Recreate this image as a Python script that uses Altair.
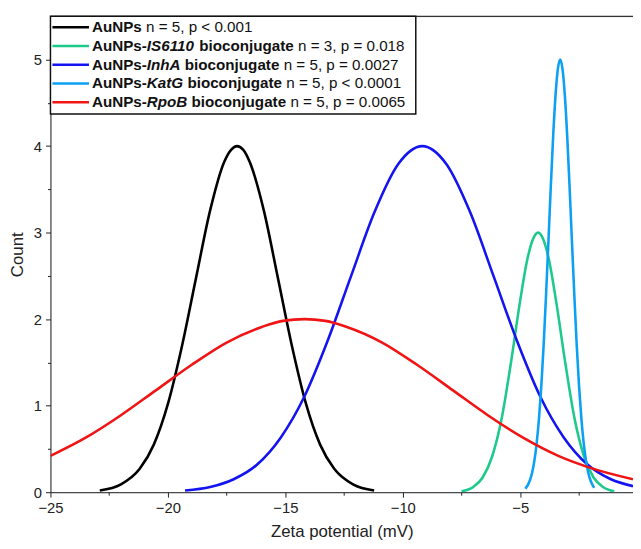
import altair as alt
import pandas as pd

# ---------------- data ----------------
series_names = ["AuNPs", "AuNPs-IS6110", "AuNPs-InhA", "AuNPs-KatG", "AuNPs-RpoB"]
series_colors = ["#000000", "#1DC98B", "#1414F0", "#0CA0F5", "#F01414"]

black_x = [-22.9, -22.0, -21.2, -20.6, -20.0, -19.4, -18.8, -18.2, -17.6, -17.3, -17.06,
           -16.8, -16.52, -15.92, -15.32, -14.72, -14.12, -13.52, -12.92, -12.12, -11.22]
black_y = [0.02, 0.09, 0.27, 0.55, 1.02, 1.69, 2.48, 3.26, 3.82, 3.96, 4.0,
           3.96, 3.82, 3.26, 2.48, 1.69, 1.02, 0.55, 0.27, 0.09, 0.02]

green_x = [-7.5, -7.0, -6.6, -6.2, -5.8, -5.4, -5.0, -4.7, -4.45, -4.24,
           -4.03, -3.78, -3.48, -3.08, -2.68, -2.28, -1.88, -1.48, -1.0]
green_y = [0.01, 0.06, 0.17, 0.41, 0.84, 1.49, 2.22, 2.69, 2.93, 3.0,
           2.93, 2.69, 2.22, 1.49, 0.84, 0.41, 0.17, 0.06, 0.01]

blue_x = [-19.27, -18.2, -17.2, -16.2, -15.2, -14.2, -13.2, -12.2, -11.2, -10.2, -9.17,
          -8.14, -7.14, -6.14, -5.14, -4.14, -3.14, -2.14, -1.14, -0.2]
blue_y = [0.02, 0.06, 0.15, 0.32, 0.63, 1.10, 1.75, 2.50, 3.24, 3.79, 4.0,
          3.79, 3.24, 2.50, 1.75, 1.10, 0.63, 0.32, 0.15, 0.07]

cyan_x = [-4.78, -4.6, -4.5, -4.4, -4.3, -4.2, -4.1, -4.0, -3.9, -3.8, -3.7, -3.6, -3.5, -3.4, -3.3,
          -3.2, -3.1, -3.0, -2.9, -2.8, -2.7, -2.6, -2.5, -2.4, -2.3, -2.2, -2.1, -2.0, -1.85]
cyan_y = [0.04, 0.13, 0.22, 0.36, 0.57, 0.86, 1.24, 1.72, 2.29, 2.90, 3.53, 4.11, 4.58, 4.89, 5.0,
          4.89, 4.58, 4.11, 3.53, 2.90, 2.29, 1.72, 1.24, 0.86, 0.57, 0.36, 0.22, 0.13, 0.05]

red_x = [-25.0, -23.5, -22.0, -20.5, -19.0, -17.5, -16.0, -15.1, -14.19,
         -13.3, -12.38, -10.88, -9.38, -7.88, -6.38, -4.88, -3.38, -1.88, -0.2]
red_y = [0.42, 0.63, 0.89, 1.18, 1.47, 1.73, 1.91, 1.98, 2.0,
         1.98, 1.91, 1.73, 1.47, 1.18, 0.89, 0.63, 0.42, 0.27, 0.15]

# legend text pieces: (text, style)  style: b = bold, bi = bold italic, r = regular
legend_rows = [
    [("AuNPs", "b"), (" n = 5, p < 0.001", "r")],
    [("AuNPs-", "b"), ("IS6110", "bi"), (" bioconjugate", "b"), (" n = 3, p = 0.018", "r")],
    [("AuNPs-", "b"), ("InhA", "bi"), (" bioconjugate", "b"), (" n = 5, p = 0.0027", "r")],
    [("AuNPs-", "b"), ("KatG", "bi"), (" bioconjugate", "b"), (" n = 5, p < 0.0001", "r")],
    [("AuNPs-", "b"), ("RpoB", "bi"), (" bioconjugate", "b"), (" n = 5, p = 0.0065", "r")],
]

x_ticks = [-25, -22.5, -20, -17.5, -15, -12.5, -10, -7.5, -5, -2.5]
y_ticks = [0, 0.5, 1, 1.5, 2, 2.5, 3, 3.5, 4, 4.5, 5]

# ---------------- build tables ----------------
xs = [black_x, green_x, blue_x, cyan_x, red_x]
ys = [black_y, green_y, blue_y, cyan_y, red_y]
rows = []
for k, (name, xv, yv) in enumerate(zip(series_names, xs, ys)):
    for a, b in zip(xv, yv):
        rows.append({"series": name, "k": k, "x": a, "y": b})
curves = pd.DataFrame(rows)

W, H = 590, 482
FONT = "Liberation Sans"
FS = 15.4

REG = {" ": 278, "n": 556, "=": 584, "<": 584, ",": 278, ".": 278, "p": 556}
BOLD = {"A": 722, "u": 611, "N": 722, "P": 667, "s": 556, "-": 333, " ": 278, "b": 611,
        "i": 278, "o": 611, "c": 556, "n": 611, "j": 278, "g": 611, "a": 556, "t": 333, "e": 556}
BI = {"I": 278, "S": 667, "n": 611, "h": 611, "A": 722, "K": 722, "a": 556, "t": 333,
      "G": 778, "R": 722, "p": 611, "o": 611, "B": 722}
TABLES = {"r": REG, "b": BOLD, "bi": BI}


def tw(s, st):
    t = TABLES[st]
    return sum(t.get(c, 556) for c in s) * FS / 1000.0


row_y = [11 + 19 * i for i in range(len(legend_rows))]
seg_rows = []
line_rows = []
for i, segs in enumerate(legend_rows):
    cur = 42.0
    for text, st in segs:
        lead = len(text) - len(text.lstrip(" "))
        seg_rows.append({"t": text.strip(), "st": st, "px": cur + tw(" " * lead, st), "py": row_y[i]})
        cur += tw(text, st)
    line_rows.append({"series": series_names[i], "x1": 2, "x2": 39, "py": row_y[i]})
segs_df = pd.DataFrame(seg_rows)
lines_df = pd.DataFrame(line_rows)

color_scale = alt.Scale(domain=series_names, range=series_colors)

x_axis = alt.Axis(
    values=x_ticks, labelExpr="datum.value % 5 === 0 ? format(datum.value, 'd') : ''",
    tickSize={"condition": {"test": "datum.value % 5 === 0", "value": 5}, "value": 3},
    title="Zeta potential (mV)", titleFontSize=17, titleFontWeight="normal", titleFont=FONT,
    titleColor="#222222", titlePadding=8, labelFont=FONT, labelFontSize=15, labelColor="#222222",
    labelPadding=4, domainColor="#222222", tickColor="#222222", grid=False, labelFlush=False,
)
y_axis = alt.Axis(
    values=y_ticks, labelExpr="datum.value % 1 === 0 ? format(datum.value, 'd') : ''",
    tickSize={"condition": {"test": "datum.value % 1 === 0", "value": 5}, "value": 3},
    title="Count", titleFontSize=17, titleFontWeight="normal", titleFont=FONT,
    titleColor="#222222", titlePadding=7, labelFont=FONT, labelFontSize=15, labelColor="#222222",
    labelPadding=4, domainColor="#222222", tickColor="#222222", grid=False,
)

lines = alt.Chart(curves).mark_line(strokeWidth=2.6, interpolate="monotone", clip=True).encode(
    x=alt.X("x:Q", scale=alt.Scale(domain=[-25, -0.2], nice=False, zero=False), axis=x_axis),
    y=alt.Y("y:Q", scale=alt.Scale(domain=[0, 5.5], nice=False), axis=y_axis),
    color=alt.Color("series:N", scale=color_scale, legend=None),
    detail="k:N",
    order=alt.Order("x:Q"),
)

frame_top = alt.Chart(pd.DataFrame({"a": [0]})).mark_rule(color="#333333", strokeWidth=1.2).encode(
    y=alt.value(0), x=alt.value(0), x2=alt.value(W)
)

box = alt.Chart(pd.DataFrame({"a": [0]})).mark_rect(fill="white", stroke="#111111", strokeWidth=1.5).encode(
    x=alt.value(0), x2=alt.value(370), y=alt.value(0), y2=alt.value(99)
)

leg_lines = alt.Chart(lines_df).mark_rule(strokeWidth=2.6).encode(
    x=alt.X("x1:Q", scale=None), x2="x2:Q", y=alt.Y("py:Q", scale=None),
    color=alt.Color("series:N", scale=color_scale, legend=None),
)


def seg_layer(st, weight, style):
    return alt.Chart(segs_df).transform_filter(alt.datum.st == st).mark_text(
        align="left", baseline="middle", font=FONT, fontSize=FS, fontWeight=weight,
        fontStyle=style, color="#111111"
    ).encode(x=alt.X("px:Q", scale=None), y=alt.Y("py:Q", scale=None), text="t:N")


chart = alt.layer(
    lines, frame_top, box, leg_lines,
    seg_layer("b", "bold", "normal"), seg_layer("bi", "bold", "italic"), seg_layer("r", "normal", "normal"),
).properties(
    width=W, height=H,
    autosize=alt.AutoSizeParams(type="none"),
    padding={"left": 43, "top": 5, "right": 0, "bottom": 46},
).configure_view(stroke=None).configure(background="white")

chart.save("out.html", embed_options={"renderer": "svg", "actions": False})
